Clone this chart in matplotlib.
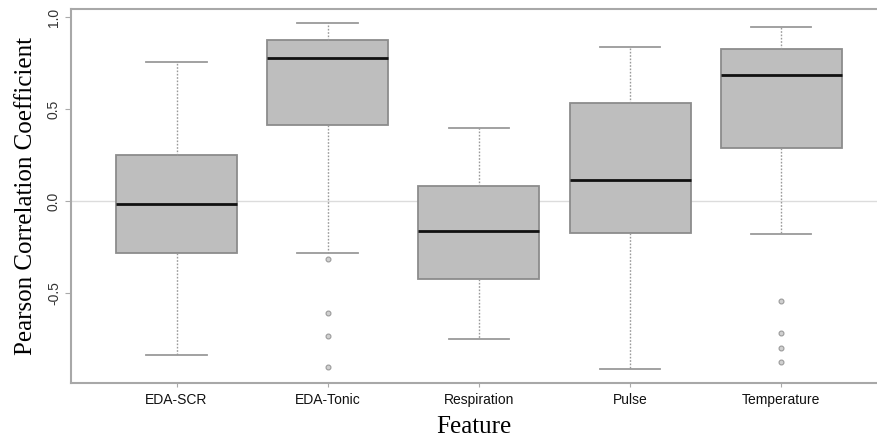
import matplotlib
matplotlib.use('Agg')
import matplotlib.pyplot as plt

features = ['EDA-SCR', 'EDA-Tonic', 'Respiration', 'Pulse', 'Temperature']
whislo = [-0.839, -0.281, -0.751, -0.915, -0.178]
q1 = [-0.281, 0.413, -0.423, -0.172, 0.287]
med = [-0.014, 0.779, -0.161, 0.117, 0.686]
q3 = [0.249, 0.877, 0.079, 0.533, 0.828]
whishi = [0.757, 0.970, 0.396, 0.839, 0.948]
fliers = [
    [],
    [-0.314, -0.609, -0.735, -0.904],
    [],
    [],
    [-0.544, -0.719, -0.800, -0.877],
]
yticks = [-0.5, 0.0, 0.5, 1.0]
ytick_labels = ['-0.5', '0.0', '0.5', '1.0']

stats = []
for i, name in enumerate(features):
    stats.append(dict(label=name, whislo=whislo[i], q1=q1[i], med=med[i],
                      q3=q3[i], whishi=whishi[i], fliers=fliers[i]))

fig = plt.figure(figsize=(8.78, 4.41), dpi=100)
ax = fig.add_axes([0.0805, 0.1315, 0.9195, 0.848])

ax.axhline(0, color='#dcdcdc', lw=1, zorder=0)

ax.bxp(stats, positions=range(1, 6), widths=0.8, capwidths=0.4,
       patch_artist=True, showfliers=True,
       boxprops=dict(facecolor='#bebebe', edgecolor='#8c8c8c', linewidth=1.3),
       medianprops=dict(color='#111111', linewidth=2),
       whiskerprops=dict(color='#9a9a9a', linestyle=(0, (1.2, 1.2)), linewidth=1),
       capprops=dict(color='#9a9a9a', linewidth=1.3),
       flierprops=dict(marker='o', markersize=3.5, markerfacecolor='#d0d0d0',
                       markeredgecolor='#9a9a9a', markeredgewidth=0.8))

ax.set_xlim(0.3, 5.64)
ax.set_ylim(-0.992, 1.046)
ax.set_yticks(yticks)
ax.set_yticklabels(ytick_labels, rotation=90, va='center',
                   family='Liberation Sans', fontsize=10, color='#333333')
ax.set_xticks(range(1, 6))
ax.set_xticklabels(features, family='Liberation Sans', fontsize=10, color='#111111')
ax.tick_params(axis='y', length=4, color='#aaaaaa', pad=3)
ax.tick_params(axis='x', length=3, color='#aaaaaa', pad=4)

for side in ['left', 'top', 'bottom']:
    ax.spines[side].set_color('#a8a8a8')
    ax.spines[side].set_linewidth(1.5)
ax.spines['right'].set_visible(False)

ax.set_xlabel('Feature', family='Liberation Serif', fontsize=18, labelpad=7)
ax.set_ylabel('Pearson Correlation Coefficient', family='Liberation Serif',
              fontsize=18, labelpad=7)

fig.savefig('out.png', dpi=100)
